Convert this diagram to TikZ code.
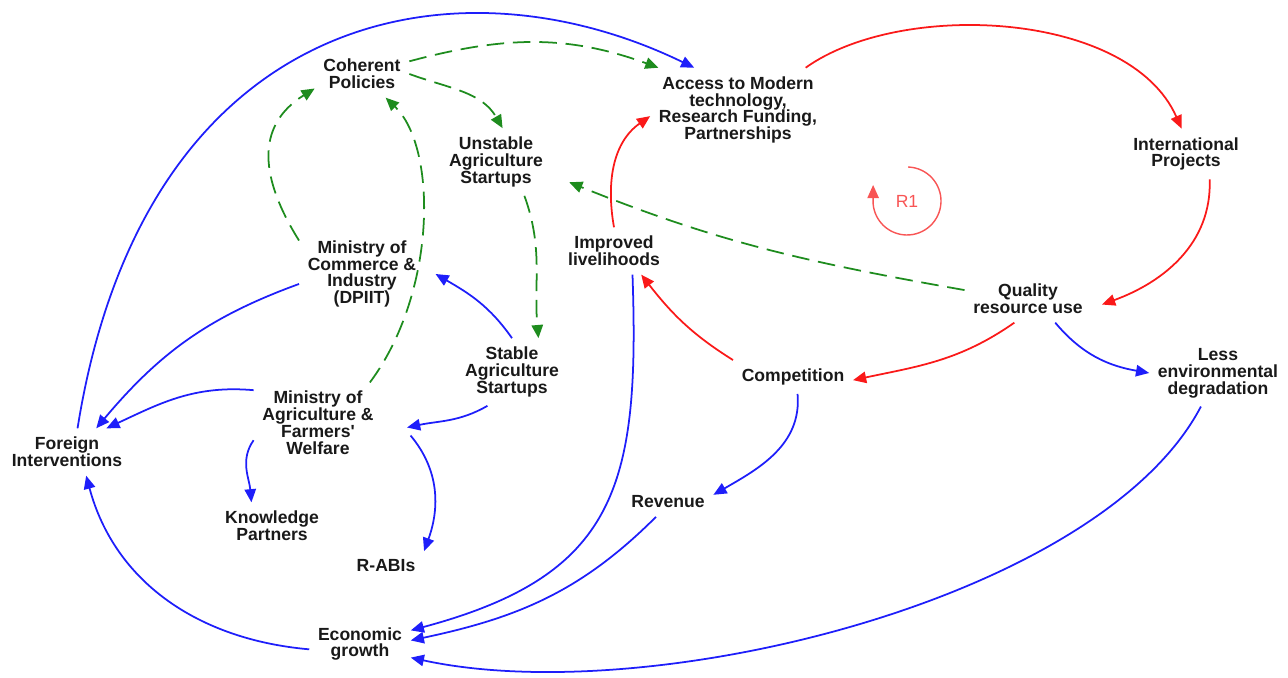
\documentclass[tikz,border=0pt]{standalone}
\usepackage{fontspec}
\setmainfont{Liberation Sans}
\usetikzlibrary{arrows.meta}
\definecolor{cldblue}{RGB}{30,30,250}
\definecolor{cldred}{RGB}{250,25,25}
\definecolor{cldgreen}{RGB}{30,140,30}
\definecolor{loopred}{RGB}{248,85,85}
\tikzset{
	var/.style={align=center, font=\fontsize{10}{9.6}\selectfont\bfseries, text=black!90, inner sep=1pt, outer sep=4pt},
	cldtip/.style={-{Triangle[length=7.5pt,width=6.5pt]}},
	bluelink/.style={cldtip, cldblue, line width=1pt},
	redlink/.style={cldtip, cldred, line width=1pt},
	delaylink/.style={cldtip, cldgreen, line width=1pt, dash pattern=on 10pt off 5pt}
}
\begin{document}
\begin{tikzpicture}[x=0.02cm,y=0.02cm]
		\useasboundingbox (0,0) rectangle (1288,-678);
		\node[var] (cp) at (362,-74) {Coherent\\Policies};
		\node[var] (acc) at (738,-110) {Access to Modern\\technology,\\Research Funding,\\Partnerships};
		\node[var] (ip) at (1186,-154) {International\\Projects};
		\node[var] (uas) at (496,-162) {Unstable\\Agriculture\\Startups};
		\node[var] (il) at (614,-251) {Improved\\livelihoods};
		\node[var] (mc) at (362,-274) {Ministry of\\Commerce \&\\Industry\\(DPIIT)};
		\node[var] (qu) at (1028,-299) {Quality\\resource use};
		\node[var] (ss) at (512,-372) {Stable\\Agriculture\\Startups};
		\node[var] (comp) at (793,-377) {Competition};
		\node[var] (le) at (1218,-373) {Less\\environmental\\degradation};
		\node[var] (ma) at (318,-423) {Ministry of\\Agriculture \&\\Farmers\textquotesingle\\Welfare};
		\node[var] (fi) at (67,-452) {Foreign\\Interventions};
		\node[var] (rev) at (668,-502) {Revenue};
		\node[var] (kp) at (272,-526) {Knowledge\\Partners};
		\node[var] (rabi) at (386,-566) {R-ABIs};
		\node[var] (eg) at (360,-644) {Economic\\growth};
		\node[text=loopred, font=\fontsize{10}{12}\selectfont] (r1) at (907,-201) {R1};
		% loop marker
		\draw[cldtip, loopred, line width=0.8pt] ([shift={(88:34)}]r1.center) arc[start angle=88, end angle=-175, radius=34] -- ++(0,19);
		% blue links
		\draw[bluelink] (fi.66) .. controls +(66,415) and +(-243,118) .. (acc.136);
		\draw[bluelink] (mc.189) to[out=200,in=50] (fi.39);
		\draw[bluelink] (ma.153) to[out=175,in=25] (fi.31);
		\draw[bluelink] (ss.north) to[out=125,in=-30] ([xshift=6pt]mc.east);
		\draw[bluelink] (ss.234) to[out=210,in=12] ([xshift=14pt]ma.-4);
		\draw[bluelink] (ma.195) to[out=235,in=95] (kp.131);
		\draw[bluelink] ([xshift=16pt]ma.-11) to[out=-50,in=70] (rabi.north east);
		\draw[bluelink] (eg.186) to[out=175,in=-75] (fi.-51);
		\draw[bluelink] (il.-52) to[out=-88,in=15,looseness=1.3] (eg.15);
		\draw[bluelink] (rev.231) to[out=225,in=12] (eg.4);
		\draw[bluelink] (comp.-75) to[out=-85,in=30] (rev.9);
		\draw[bluelink] (qu.-41) to[out=-50,in=170] (le.west);
		\draw[bluelink] (le.243) .. controls +(-101,-193) and +(239,-52) .. (eg.-15);
		% red links
		\draw[redlink] (acc.32) .. controls +(95,68) and +(-52,118) .. (ip.100);
		\draw[redlink] (ip.-47) to[out=-88,in=20] ([xshift=6pt]qu.-5);
		\draw[redlink] (qu.240) to[out=215,in=12] (comp.-3);
		\draw[redlink] (comp.north west) to[out=148,in=-52] (il.-41);
		\draw[redlink] (il.north) to[out=100,in=-145] (acc.184);
		% green links
		\draw[delaylink] (cp.15) to[out=15,in=160] (acc.152);
		\draw[delaylink] (cp.east) to[out=-20,in=120] (uas.79);
		\draw[delaylink] (uas.-50) to[out=-70,in=95] (ss.52);
		\draw[delaylink] (mc.152) to[out=122,in=-148,looseness=1.2] (cp.197);
		\draw[delaylink] (ma.38) .. controls +(67,90) and +(52,-50) .. (cp.-45);
		\draw[delaylink] (qu.172) to[out=170,in=-22] ([xshift=10pt]uas.-20);
	\end{tikzpicture}
\end{document}
